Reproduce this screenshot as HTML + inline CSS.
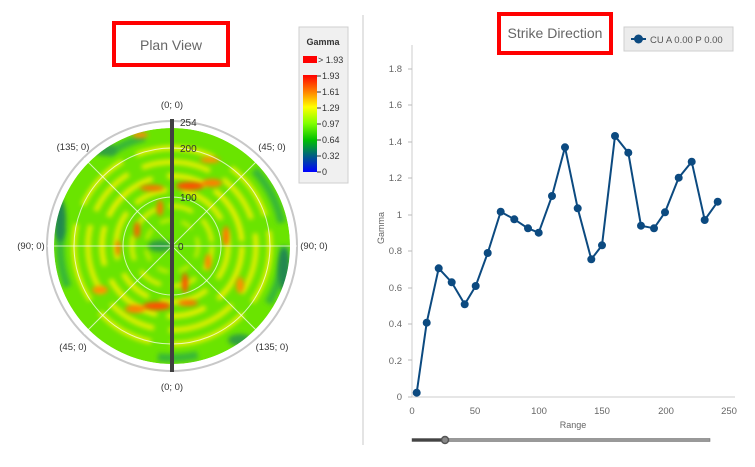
<!DOCTYPE html>
<html><head><meta charset="utf-8"><style>
body{margin:0;background:#fff;width:755px;height:462px;overflow:hidden;font-family:"Liberation Sans",sans-serif}
</style></head><body>
<svg width="755" height="462" xmlns="http://www.w3.org/2000/svg" font-family="Liberation Sans, sans-serif">
<defs>
<filter id="b" x="-20%" y="-20%" width="140%" height="140%"><feGaussianBlur stdDeviation="2.5"/></filter>
<clipPath id="dc"><circle cx="172" cy="246" r="118"/></clipPath>
<linearGradient id="cb" x1="0" y1="1" x2="0" y2="0">
<stop offset="0" stop-color="#0000ff"/><stop offset="0.17" stop-color="#006080"/><stop offset="0.33" stop-color="#00c000"/><stop offset="0.5" stop-color="#80ff00"/><stop offset="0.67" stop-color="#ffff00"/><stop offset="0.83" stop-color="#ff8000"/><stop offset="1" stop-color="#ff0000"/></linearGradient>
</defs>
<line x1="363" y1="15" x2="363" y2="445" stroke="#e4e4e4" stroke-width="2"/>
<rect x="114" y="23" width="114" height="42" fill="none" stroke="#ff0000" stroke-width="4"/>
<text x="171" y="50" font-size="14" fill="#666" text-anchor="middle">Plan View</text>
<circle cx="172" cy="246" r="125" fill="none" stroke="#c8c8c8" stroke-width="2"/>
<g clip-path="url(#dc)">
<circle cx="172" cy="246" r="118" fill="#6ae400"/>
<g filter="url(#b)" fill="none">
<circle cx="172" cy="246" r="112" stroke="#38b838" stroke-width="8" stroke-dasharray="60 90 40 120"/>
<circle cx="172" cy="246" r="98" stroke="#e8f000" stroke-width="5" stroke-dasharray="60 15 80 20"/>
<circle cx="172" cy="246" r="84" stroke="#e8f000" stroke-width="5" stroke-dasharray="50 15 70 15"/>
<circle cx="172" cy="246" r="70" stroke="#f0f000" stroke-width="5" stroke-dasharray="60 15 40 10"/>
<circle cx="172" cy="246" r="56" stroke="#e8f000" stroke-width="5" stroke-dasharray="35 15 50 12"/>
<circle cx="172" cy="246" r="40" stroke="#e8f000" stroke-width="4" stroke-dasharray="25 12"/>
<circle cx="172" cy="246" r="26" stroke="#d8f000" stroke-width="3" stroke-dasharray="12 10"/>
</g>
<g filter="url(#b)">
<ellipse cx="60" cy="220" rx="6" ry="22" fill="#208850"/>
<ellipse cx="284" cy="270" rx="6" ry="22" fill="#208850"/>
<ellipse cx="105" cy="150" rx="12" ry="6" fill="#30a040"/>
<ellipse cx="240" cy="340" rx="12" ry="6" fill="#30a040"/>
<ellipse cx="190" cy="186" rx="14" ry="4" fill="#ff5000"/>
<ellipse cx="212" cy="183" rx="10" ry="4" fill="#ff8000"/>
<ellipse cx="152" cy="188" rx="12" ry="3" fill="#ff7000"/>
<ellipse cx="157" cy="306" rx="14" ry="4" fill="#ff5000"/>
<ellipse cx="135" cy="309" rx="10" ry="4" fill="#ff8000"/>
<ellipse cx="188" cy="303" rx="10" ry="3" fill="#ff7000"/>
<ellipse cx="160" cy="208" rx="3" ry="8" fill="#ff7000"/>
<ellipse cx="185" cy="283" rx="3" ry="10" fill="#ff5000"/>
<ellipse cx="137" cy="230" rx="3" ry="8" fill="#ff6000"/>
<ellipse cx="226" cy="236" rx="3" ry="10" fill="#ff7000"/>
<ellipse cx="118" cy="248" rx="2" ry="8" fill="#ff6000"/>
<ellipse cx="208" cy="262" rx="3" ry="8" fill="#ff8000"/>
<ellipse cx="240" cy="285" rx="4" ry="8" fill="#ff9000"/>
<ellipse cx="210" cy="160" rx="10" ry="3" fill="#ff9000"/>
<ellipse cx="140" cy="135" rx="8" ry="3" fill="#ff9000"/>
<ellipse cx="100" cy="290" rx="8" ry="4" fill="#ff9000"/>
<ellipse cx="160" cy="246" rx="12" ry="6" fill="#30a040"/>
</g>
</g>
<g stroke="#ffffff" stroke-opacity="0.7" stroke-width="1" fill="none">
<circle cx="172" cy="246" r="49"/><circle cx="172" cy="246" r="98"/>
<line x1="47" y1="246" x2="297" y2="246"/>
<line x1="84" y1="158" x2="260" y2="334"/><line x1="260" y1="158" x2="84" y2="334"/>
</g>
<line x1="172" y1="119" x2="172" y2="372" stroke="#404040" stroke-width="4"/>
<g font-size="10" fill="#333">
<text x="180" y="126">254</text><text x="180" y="152">200</text><text x="180" y="201">100</text><text x="178" y="250">0</text>
</g>
<g font-size="9.5" fill="#333" text-anchor="middle">
<text x="172" y="108">(0; 0)</text><text x="172" y="390">(0; 0)</text>
<text x="31" y="249">(90; 0)</text><text x="314" y="249">(90; 0)</text>
<text x="73" y="150">(135; 0)</text><text x="272" y="150">(45; 0)</text>
<text x="73" y="350">(45; 0)</text><text x="272" y="350">(135; 0)</text>
</g>
<rect x="299" y="27" width="49" height="156" fill="#f0f0f0" stroke="#cfcfcf"/>
<text x="323" y="45" font-size="9" font-weight="bold" fill="#333" text-anchor="middle">Gamma</text>
<rect x="303" y="56" width="14" height="7" fill="#ff0000"/>
<text x="318" y="63" font-size="9" fill="#333">&gt; 1.93</text>
<rect x="303" y="75" width="14" height="97" fill="url(#cb)"/>
<g font-size="9" fill="#333" stroke="#333">
<g stroke-width="1"><line x1="317" y1="76" x2="321" y2="76"/><line x1="317" y1="92" x2="321" y2="92"/><line x1="317" y1="108" x2="321" y2="108"/><line x1="317" y1="124" x2="321" y2="124"/><line x1="317" y1="140" x2="321" y2="140"/><line x1="317" y1="156" x2="321" y2="156"/><line x1="317" y1="172" x2="321" y2="172"/></g>
<g stroke="none"><text x="322" y="79">1.93</text><text x="322" y="95">1.61</text><text x="322" y="111">1.29</text><text x="322" y="127">0.97</text><text x="322" y="143">0.64</text><text x="322" y="159">0.32</text><text x="322" y="175">0</text></g>
</g>
<rect x="499" y="14" width="112" height="39" fill="none" stroke="#ff0000" stroke-width="4"/>
<text x="555" y="38" font-size="14" fill="#666" text-anchor="middle">Strike Direction</text>
<rect x="624" y="27" width="109" height="24" fill="#ececec" stroke="#cfcfcf"/>
<line x1="631" y1="39" x2="646" y2="39" stroke="#0c4a80" stroke-width="2"/><circle cx="638.5" cy="39" r="4.5" fill="#0c4a80"/>
<text x="650" y="43" font-size="9.5" fill="#555">CU A 0.00 P 0.00</text>
<line x1="412" y1="45" x2="412" y2="397" stroke="#ccc"/>
<line x1="412" y1="397" x2="735" y2="397" stroke="#ccc"/>
<g font-size="9.5" fill="#666" text-anchor="end">
<text x="402" y="400">0</text><text x="402" y="364">0.2</text><text x="402" y="327">0.4</text><text x="402" y="291">0.6</text><text x="402" y="254">0.8</text><text x="402" y="218">1</text><text x="402" y="181">1.2</text><text x="402" y="145">1.4</text><text x="402" y="108">1.6</text><text x="402" y="72">1.8</text>
</g>
<g stroke="#bbb"><line x1="408" y1="397" x2="412" y2="397"/><line x1="408" y1="360" x2="412" y2="360"/><line x1="408" y1="324" x2="412" y2="324"/><line x1="408" y1="288" x2="412" y2="288"/><line x1="408" y1="251" x2="412" y2="251"/><line x1="408" y1="215" x2="412" y2="215"/><line x1="408" y1="178" x2="412" y2="178"/><line x1="408" y1="142" x2="412" y2="142"/><line x1="408" y1="105" x2="412" y2="105"/><line x1="408" y1="69" x2="412" y2="69"/></g>
<g font-size="9.5" fill="#666" text-anchor="middle">
<text x="412" y="414">0</text><text x="475" y="414">50</text><text x="539" y="414">100</text><text x="602" y="414">150</text><text x="666" y="414">200</text><text x="729" y="414">250</text>
<text x="573" y="428" font-size="9">Range</text>
</g>
<text transform="translate(384,228) rotate(-90)" font-size="9" fill="#666" text-anchor="middle">Gamma</text>
<polyline fill="none" stroke="#0c4a80" stroke-width="2" points="416.7,392.7 426.7,322.7 438.7,268.3 451.7,282.3 464.7,304.3 475.7,286 487.7,253 500.7,211.7 514.3,219.3 528,228.3 538.7,232.7 552,196 565,147.3 577.7,208.3 591.3,259.3 602,245.3 615,136 628.3,152.7 641,225.7 654,228.3 665,212.3 678.7,177.7 691.7,161.7 704.7,220 717.7,201.7"/>
<g fill="#0c4a80">
<circle cx="416.7" cy="392.7" r="4"/><circle cx="426.7" cy="322.7" r="4"/><circle cx="438.7" cy="268.3" r="4"/><circle cx="451.7" cy="282.3" r="4"/><circle cx="464.7" cy="304.3" r="4"/><circle cx="475.7" cy="286" r="4"/><circle cx="487.7" cy="253" r="4"/><circle cx="500.7" cy="211.7" r="4"/><circle cx="514.3" cy="219.3" r="4"/><circle cx="528" cy="228.3" r="4"/><circle cx="538.7" cy="232.7" r="4"/><circle cx="552" cy="196" r="4"/><circle cx="565" cy="147.3" r="4"/><circle cx="577.7" cy="208.3" r="4"/><circle cx="591.3" cy="259.3" r="4"/><circle cx="602" cy="245.3" r="4"/><circle cx="615" cy="136" r="4"/><circle cx="628.3" cy="152.7" r="4"/><circle cx="641" cy="225.7" r="4"/><circle cx="654" cy="228.3" r="4"/><circle cx="665" cy="212.3" r="4"/><circle cx="678.7" cy="177.7" r="4"/><circle cx="691.7" cy="161.7" r="4"/><circle cx="704.7" cy="220" r="4"/><circle cx="717.7" cy="201.7" r="4"/>
</g>
<rect x="412" y="438.5" width="298" height="3" fill="#999" stroke="#666" stroke-width="0.5"/>
<line x1="412" y1="440" x2="445" y2="440" stroke="#444" stroke-width="3"/>
<circle cx="445" cy="440" r="3.5" fill="#888" stroke="#555" stroke-width="1.5"/>
</svg>
</body></html>
